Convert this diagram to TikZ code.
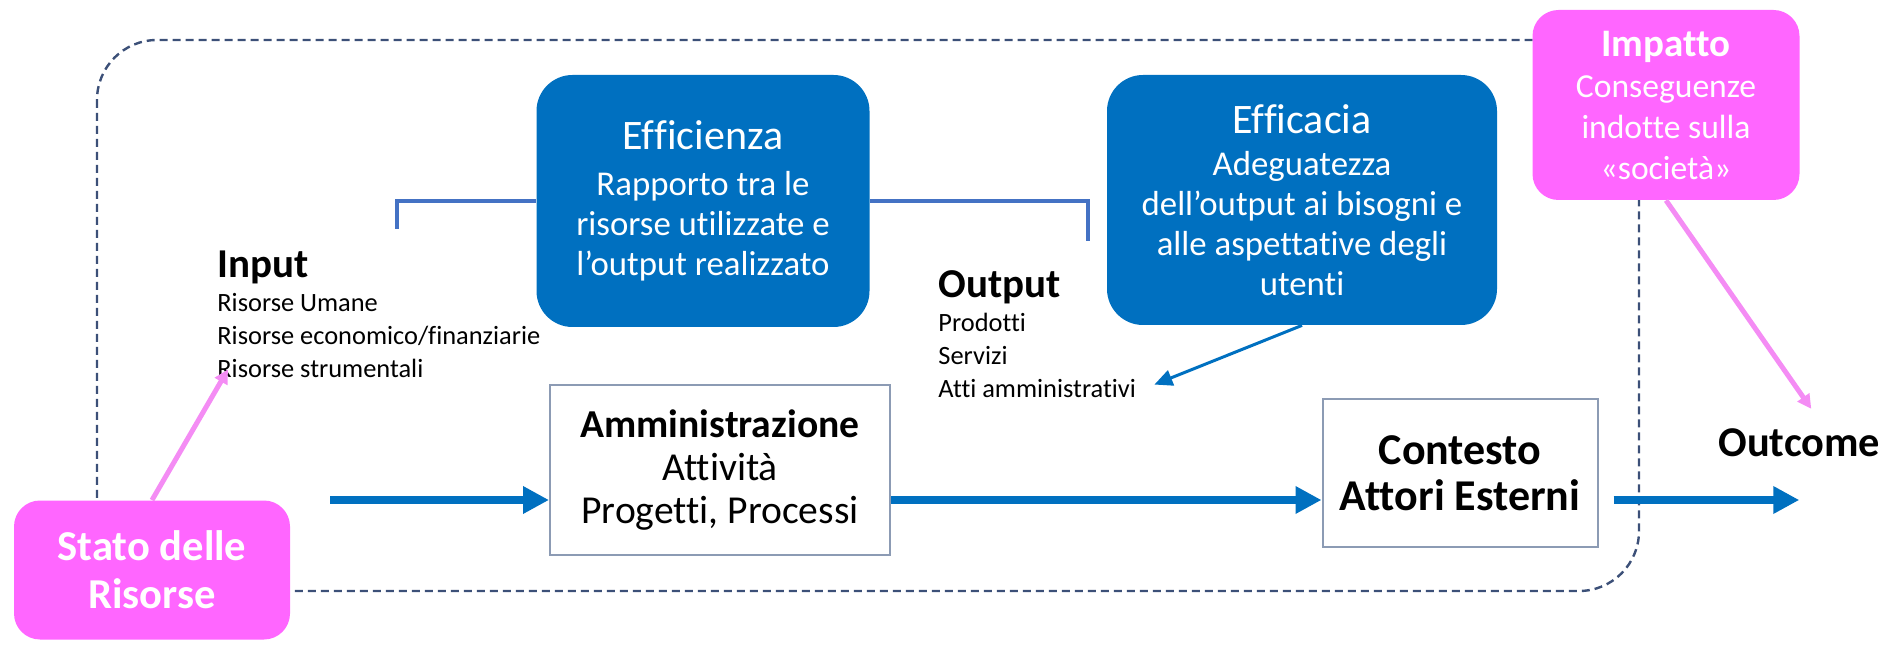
\documentclass[tikz,border=0pt]{standalone}
\usepackage{fontspec}
\setmainfont{Carlito}[Ligatures={NoCommon,NoContextual}, Contextuals=NoAlternate,
  RawFeature={-liga;-clig;-dlig}]
\usetikzlibrary{arrows.meta, positioning}
\definecolor{ciclo_blue}{RGB}{0, 112, 192}
\definecolor{ciclo_pink}{RGB}{255, 102, 255}
\definecolor{ciclo_violet}{RGB}{244, 140, 244}
\definecolor{ciclo_line}{RGB}{68, 114, 196}
\definecolor{ciclo_dash}{RGB}{60, 80, 120}
\definecolor{ciclo_grey}{RGB}{140, 155, 180}

\begin{document}
\begin{tikzpicture}[x=0.5pt, y=-0.5pt,
    bluebox/.style={fill=ciclo_blue, rounded corners=18pt, text=white,
                    align=center, inner sep=0pt,
                    font=\fontsize{17.4}{20}\selectfont},
    pinkbox/.style={fill=ciclo_pink, rounded corners=13pt, text=white,
                    align=center, inner sep=0pt},
    plainbox/.style={draw=ciclo_grey, line width=1pt, fill=white,
                     align=center, inner sep=0pt},
    head/.style={font=\bfseries\fontsize{20.5}{24}\selectfont, inner sep=0pt},
    itemlist/.style={font=\fontsize{13.2}{16.6}\selectfont, align=left,
                     inner sep=0pt},
    frame/.style={draw=ciclo_dash, line width=1.2pt, dash pattern=on 4pt off 2.5pt,
                  rounded corners=30pt},
    bracket/.style={draw=ciclo_line, line width=2pt},
    flow/.style={-{Triangle[length=13pt, width=13pt]}, line width=4pt, ciclo_blue},
    thinarr/.style={-{Triangle[length=9pt, width=8pt]}, line width=1.5pt, ciclo_blue},
    pinkarr/.style={-{Triangle[length=7pt, width=7pt]}, line width=2.5pt, ciclo_violet}]
  \useasboundingbox (0,0) rectangle (1890,646);
  \draw[frame] (97,40) rectangle (1639,591);

  \node[bluebox, minimum width=166.5pt, minimum height=126pt] (effz)
    at (703,201) {{\fontsize{21}{24}\selectfont Efficienza}\\[3pt]
    Rapporto tra le\\ risorse utilizzate e\\ l’output realizzato};
  \node[bluebox, minimum width=195pt, minimum height=125pt] (effc)
    at (1302,200) {{\fontsize{21}{24}\selectfont Efficacia}\\[1pt]
    Adeguatezza\\ dell’output ai bisogni e\\ alle aspettative degli\\ utenti};
  \node[pinkbox, minimum width=133.5pt, minimum height=95pt,
        font=\fontsize{16.8}{20.5}\selectfont] (imp)
    at (1666,105) {{\bfseries\fontsize{19.5}{22}\selectfont Impatto}\\
    Conseguenze\\ indotte sulla\\ «società»};
  \node[pinkbox, minimum width=138pt, minimum height=69.5pt,
        font=\bfseries\fontsize{21.3}{24}\selectfont] (stato)
    at (152,570) {Stato delle\\ Risorse};
  \node[plainbox, minimum width=170pt, minimum height=84.5pt,
        font=\fontsize{19.8}{21.7}\selectfont] (amm)
    at (720,470) {\textbf{Amministrazione}\\ Attività\\ Progetti, Processi};
  \node[plainbox, minimum width=137.5pt, minimum height=73.5pt,
        font=\bfseries\fontsize{22}{23}\selectfont] (cont)
    at (1460,473) {Contesto\\ Attori Esterni};

  \node[head, anchor=base west] (intitle) at (217,278) {Input};
  \node[itemlist, below=4pt of intitle.south west, anchor=north west] (inlist)
    {Risorse Umane\\ Risorse economico/finanziarie\\ Risorse strumentali};
  \node[head, anchor=base west] (outtitle) at (938,298) {Output};
  \node[itemlist, below=4pt of outtitle.south west, anchor=north west] (outlist)
    {Prodotti\\ Servizi\\ Atti amministrativi};
  \node[head, font=\bfseries\fontsize{21.2}{24}\selectfont, anchor=base west] (outc)
    at (1718,457) {Outcome};

  % parentesi tra input e output
  \coordinate (inmark) at (397,229);
  \coordinate (outmark) at (1088,241);
  \draw[bracket] (inmark) |- (effz.west);
  \draw[bracket] (effz.east) -| (outmark);

  % flusso principale
  \coordinate (flowstart) at (330,500);
  \draw[flow] (flowstart) -- (amm.west |- flowstart);
  \draw[flow] (amm.east |- flowstart) -- (cont.west |- flowstart);
  \draw[flow, shorten <=7.5pt] (cont.east |- flowstart) -- (outc.south |- flowstart);

  \draw[thinarr] (effc.south) -- ([xshift=9pt, yshift=7pt]outlist.south east);
  \draw[pinkarr] (stato.north) -- ([xshift=5.5pt, yshift=4.5pt]inlist.south west);
  \draw[pinkarr] (imp.south) -- ([xshift=6pt, yshift=10pt]outc.north);
\end{tikzpicture}
\end{document}
